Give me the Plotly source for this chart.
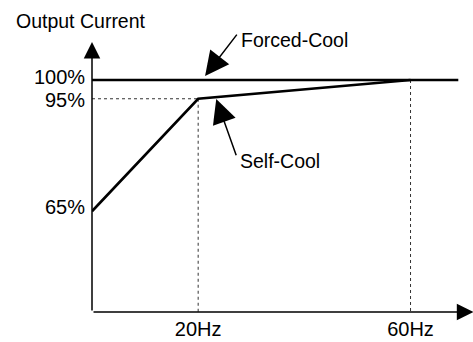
import plotly.graph_objects as go

# Derating curve: output current vs. output frequency
self_cool_freq = [0, 20, 60]          # Hz
self_cool_current = [65, 95, 100]     # % of rated current
forced_cool_freq = [0, 69]            # Hz (drawn extent)
forced_cool_current = [100, 100]      # %

y_ticks = [65, 95, 100]
y_tick_labels = ["65%", "95%", "100%"]
y_label_shift = [4, -1, 3]            # small vertical nudges so labels don't collide
x_ticks = [20, 60]
x_tick_labels = ["20Hz", "60Hz"]

X_RANGE = [0, 71.58]
Y_RANGE = [38.13, 109.87]

FONT = "Liberation Sans, Arial, sans-serif"
INK = "black"

fig = go.Figure()

# guide lines down to the axes
y_floor = Y_RANGE[0]
guide = dict(color="#333333", width=1, dash="dot")
fig.add_trace(go.Scatter(x=[0, self_cool_freq[1]], y=[self_cool_current[1]] * 2,
                         mode="lines", line=guide, hoverinfo="skip"))
fig.add_trace(go.Scatter(x=[self_cool_freq[1]] * 2, y=[self_cool_current[1], y_floor],
                         mode="lines", line=guide, hoverinfo="skip"))
fig.add_trace(go.Scatter(x=[self_cool_freq[2]] * 2, y=[self_cool_current[2], y_floor],
                         mode="lines", line=guide, hoverinfo="skip"))

# curves
fig.add_trace(go.Scatter(x=forced_cool_freq, y=forced_cool_current, mode="lines",
                         line=dict(color=INK, width=2.6), name="Forced-Cool"))
fig.add_trace(go.Scatter(x=self_cool_freq, y=self_cool_current, mode="lines",
                         line=dict(color=INK, width=2.6), name="Self-Cool"))

annotations = []

# axes with arrowheads
annotations.append(dict(x=0, y=Y_RANGE[1] + 0.3, ax=0, ay=Y_RANGE[0], xref="x", yref="y",
                        axref="x", ayref="y", text="", showarrow=True, arrowhead=2,
                        arrowsize=2.2, arrowwidth=1.5, arrowcolor=INK))
annotations.append(dict(x=X_RANGE[1] + 0.25, y=Y_RANGE[0], ax=0, ay=Y_RANGE[0], xref="x", yref="y",
                        axref="x", ayref="y", text="", showarrow=True, arrowhead=2,
                        arrowsize=2.2, arrowwidth=1.5, arrowcolor=INK))

# y tick labels
for val, lab, dy in zip(y_ticks, y_tick_labels, y_label_shift):
    annotations.append(dict(x=0, y=val, xref="paper", yref="y", text=lab, showarrow=False,
                            xanchor="right", yanchor="middle", xshift=-5, yshift=dy,
                            font=dict(family=FONT, size=20, color=INK)))

# Forced-Cool callout
annotations.append(dict(x=21.3, y=forced_cool_current[0] + 1.1, ax=27.5, ay=112.5,
                        xref="x", yref="y", axref="x", ayref="y", text="", showarrow=True,
                        arrowhead=2, arrowsize=3.2, arrowwidth=1.5, arrowcolor=INK))
annotations.append(dict(x=0.3868, y=1.0112, xref="paper", yref="paper", text="Forced-Cool",
                        showarrow=False, xanchor="left", yanchor="middle",
                        font=dict(family=FONT, size=19.5, color=INK)))

# Self-Cool callout
tip_f = 23.4
tip_c = self_cool_current[1] + (tip_f - self_cool_freq[1]) / (self_cool_freq[2] - self_cool_freq[1]) \
    * (self_cool_current[2] - self_cool_current[1])
annotations.append(dict(x=tip_f, y=tip_c - 0.5, ax=27.26, ay=79.55,
                        xref="x", yref="y", axref="x", ayref="y", text="", showarrow=True,
                        arrowhead=2, arrowsize=3.2, arrowwidth=1.5, arrowcolor=INK))
annotations.append(dict(x=27.5, y=78.5, xref="x", yref="y", text="Self-Cool",
                        showarrow=False, xanchor="left", yanchor="middle",
                        font=dict(family=FONT, size=19.5, color=INK)))

# axis title
annotations.append(dict(x=-0.205, y=1.083, xref="paper", yref="paper", text="Output Current",
                        showarrow=False, xanchor="left", yanchor="middle",
                        font=dict(family=FONT, size=19.5, color=INK)))

fig.update_layout(
    width=473, height=342,
    margin=dict(l=92, r=1, t=43, b=30),
    paper_bgcolor="white", plot_bgcolor="white",
    showlegend=False,
    annotations=annotations,
    font=dict(family=FONT, size=20, color=INK),
)
fig.update_xaxes(range=X_RANGE, tickvals=x_ticks, ticktext=x_tick_labels,
                 tickfont=dict(family=FONT, size=20, color=INK),
                 showgrid=False, zeroline=False, showline=False, ticks="",
                 ticklabelstandoff=3, fixedrange=True)
fig.update_yaxes(range=Y_RANGE, showticklabels=False,
                 showgrid=False, zeroline=False, showline=False, ticks="",
                 fixedrange=True)

fig.write_html("out.html")
